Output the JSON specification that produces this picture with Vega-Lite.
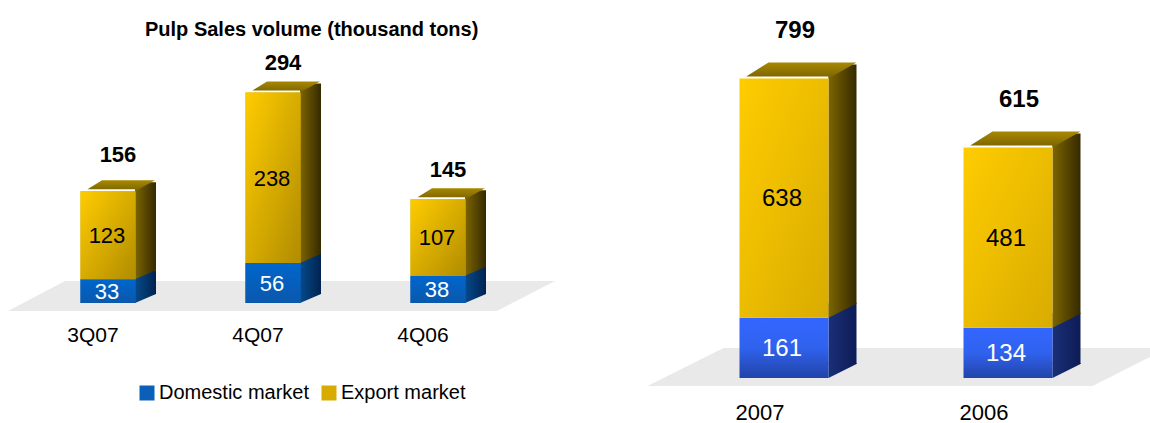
{
"$schema":"https://vega.github.io/schema/vega-lite/v6.json",
"padding":0,
"autosize":{"type":"pad"},
"background":"white",
"spacing":86,
"config":{"view":{"stroke":null},"font":"Liberation Sans"},
"hconcat":[
{"width":546,"height":303,
"title":{"text":"Pulp Sales volume (thousand tons)","anchor":"start","frame":"group","dx":145,"offset":-40,"font":"Liberation Sans","fontSize":20,"fontWeight":"bold","color":"#000000"},
"data":{"values":[
{"period":"3Q07","series":"Domestic market","value":33},
{"period":"3Q07","series":"Export market","value":123},
{"period":"4Q07","series":"Domestic market","value":56},
{"period":"4Q07","series":"Export market","value":238},
{"period":"4Q06","series":"Domestic market","value":38},
{"period":"4Q06","series":"Export market","value":107}]},
"transform":[
{"stack":"value","groupby":["period"],"sort":[{"field":"series","order":"ascending"}],"as":["y0","y1"]},
{"joinaggregate":[{"op":"sum","field":"value","as":"total"}],"groupby":["period"]}],
"encoding":{"x":{"field":"period","type":"nominal","sort":["3Q07","4Q07","4Q06"],
"scale":{"paddingInner":0,"paddingOuter":0.1545},
"axis":{"title":null,"domain":false,"ticks":false,"labelAngle":0,"labelFontSize":21,"labelColor":"#000000","labelPadding":21,"labelOffset":-15,"labelFont":"Liberation Sans"}}},
"layer":[
{"transform":[{"filter":"datum.period=='4Q07' && datum.series=='Domestic market'"}],
"mark":{"type":"point","shape":"M-265,8L224,8L282,-22L-208,-22Z","size":4,"filled":true,"opacity":1,"fill":"#e9e9e9","strokeWidth":0},
"encoding":{"y":{"datum":0,"type":"quantitative","scale":{"domain":[0,423]},"axis":null}}},
{"transform":[{"filter":"datum.series=='Domestic market'"}],
"mark":{"type":"bar","width":21,"xOffset":37.5,"yOffset":-9,"y2Offset":-9,"fill":{"gradient":"linear","x1":0,"y1":0,"x2":1,"y2":0,"stops":[{"offset":0,"color":"#064a8c"},{"offset":1,"color":"#00234f"}]}},
"encoding":{"y":{"field":"y1","type":"quantitative","scale":{"domain":[0,423]},"axis":null},"y2":{"field":"y0"}}},
{"transform":[{"filter":"datum.series=='Domestic market'"}],
"mark":{"type":"point","shape":"M27,-10L48,-10L48,-9L27,0Z","size":4,"filled":true,"opacity":1,"strokeWidth":0,"fill":{"gradient":"linear","x1":0,"y1":0,"x2":1,"y2":0,"stops":[{"offset":0,"color":"#064a8c"},{"offset":1,"color":"#00234f"}]}},
"encoding":{"y":{"field":"y0","type":"quantitative","scale":{"domain":[0,423]},"axis":null}}},
{"transform":[{"filter":"datum.series=='Export market'"}],
"mark":{"type":"bar","width":21,"xOffset":37.5,"yOffset":-9,"y2Offset":-9,"fill":{"gradient":"linear","x1":0,"y1":0,"x2":1,"y2":0,"stops":[{"offset":0,"color":"#7d6500"},{"offset":1,"color":"#352900"}]}},
"encoding":{"y":{"field":"y1","type":"quantitative","scale":{"domain":[0,423]},"axis":null},"y2":{"field":"y0"}}},
{"transform":[{"filter":"datum.series=='Export market'"}],
"mark":{"type":"point","shape":"M27,-10L48,-10L48,-9L27,0Z","size":4,"filled":true,"opacity":1,"strokeWidth":0,"fill":{"gradient":"linear","x1":0,"y1":0,"x2":1,"y2":0,"stops":[{"offset":0,"color":"#7d6500"},{"offset":1,"color":"#352900"}]}},
"encoding":{"y":{"field":"y0","type":"quantitative","scale":{"domain":[0,423]},"axis":null}}},
{"mark":{"type":"bar","width":55},
"encoding":{"y":{"field":"y1","type":"quantitative","scale":{"domain":[0,423]},"axis":null},"y2":{"field":"y0"},
"fill":{"field":"series","type":"nominal","scale":{"domain":["Domestic market","Export market"],"range":["#0a5fb8","#d8ab00"]},
"legend":{"title":null,"orient":"none","legendX":137,"legendY":383,"direction":"horizontal","columns":2,"symbolType":"square","symbolSize":225,"symbolStrokeWidth":0,"symbolOpacity":1,"labelFontSize":20,"labelColor":"#000000","labelFont":"Liberation Sans","columnPadding":9,"labelOffset":2}}}},
{"transform":[{"filter":"datum.series=='Domestic market'"}],
"mark":{"type":"bar","width":55,"fill":{"gradient":"linear","x1":0,"y1":0,"x2":0,"y2":1,"stops":[{"offset":0,"color":"#0066cc"},{"offset":1,"color":"#0a58ac"}]}},
"encoding":{"y":{"field":"y1","type":"quantitative","scale":{"domain":[0,423]},"axis":null},"y2":{"field":"y0"}}},
{"transform":[{"filter":"datum.series=='Export market'"}],
"mark":{"type":"bar","width":55,"fill":{"gradient":"linear","x1":0,"y1":0,"x2":1,"y2":1,"stops":[{"offset":0,"color":"#ffcc00"},{"offset":1,"color":"#b08c00"}]}},
"encoding":{"y":{"field":"y1","type":"quantitative","scale":{"domain":[0,423]},"axis":null},"y2":{"field":"y0"}}},
{"transform":[{"filter":"datum.series=='Export market'"}],
"mark":{"type":"point","shape":"M-20.5,-2L-6,-11L47,-11L27,0L27,-2Z","size":4,"filled":true,"opacity":1,"strokeWidth":0,"fill":{"gradient":"linear","x1":0,"y1":0,"x2":0,"y2":1,"stops":[{"offset":0,"color":"#a88800"},{"offset":1,"color":"#7a6300"}]}},
"encoding":{"y":{"field":"y1","type":"quantitative","scale":{"domain":[0,423]},"axis":null}}},
{"mark":{"type":"text","fontSize":22,"xOffset":-1,"yOffset":1},
"encoding":{"y":{"field":"value","type":"quantitative","stack":"zero","bandPosition":0.5,"scale":{"domain":[0,423]},"axis":null},
"order":{"field":"series","sort":"ascending"},
"text":{"field":"value","type":"quantitative"},
"color":{"field":"series","type":"nominal","scale":{"domain":["Domestic market","Export market"],"range":["#ffffff","#000000"]},"legend":null}}},
{"transform":[{"filter":"datum.series=='Export market' && datum.period!='3Q07'"}],
"mark":{"type":"text","fontSize":22,"fontWeight":"bold","xOffset":10,"yOffset":-29,"color":"#000000"},
"encoding":{"y":{"field":"y1","type":"quantitative","scale":{"domain":[0,423]},"axis":null},"text":{"field":"total","type":"quantitative"}}},
{"transform":[{"filter":"datum.series=='Export market' && datum.period=='3Q07'"}],
"mark":{"type":"text","fontSize":22,"fontWeight":"bold","xOffset":10,"yOffset":-36,"color":"#000000"},
"encoding":{"y":{"field":"y1","type":"quantitative","scale":{"domain":[0,423]},"axis":null},"text":{"field":"total","type":"quantitative"}}}
]},
{"width":510,"height":378,
"data":{"values":[
{"period":"2007","series":"Domestic market","value":161},
{"period":"2007","series":"Export market","value":638},
{"period":"2006","series":"Domestic market","value":134},
{"period":"2006","series":"Export market","value":481}]},
"transform":[
{"stack":"value","groupby":["period"],"sort":[{"field":"series","order":"ascending"}],"as":["y0","y1"]},
{"joinaggregate":[{"op":"sum","field":"value","as":"total"}],"groupby":["period"]}],
"encoding":{"x":{"field":"period","type":"nominal","sort":["2007","2006"],
"scale":{"paddingInner":0,"paddingOuter":0.1384},
"axis":{"title":null,"domain":false,"ticks":false,"labelAngle":0,"labelFontSize":22,"labelColor":"#000000","labelPadding":24,"labelOffset":-24,"labelFont":"Liberation Sans"}}},
"layer":[
{"transform":[{"filter":"datum.period=='2007' && datum.series=='Domestic market'"}],
"mark":{"type":"point","shape":"M-136.5,8L308.5,8L366,-21L366,-30L-60.5,-30Z","size":4,"filled":true,"opacity":1,"fill":"#e9e9e9","strokeWidth":0},
"encoding":{"y":{"datum":0,"type":"quantitative","scale":{"domain":[0,1008]},"axis":null}}},
{"transform":[{"filter":"datum.series=='Domestic market'"}],
"mark":{"type":"bar","width":28,"xOffset":58.5,"yOffset":-14,"y2Offset":-14,"fill":{"gradient":"linear","x1":0,"y1":0,"x2":1,"y2":0,"stops":[{"offset":0,"color":"#1a2f78"},{"offset":1,"color":"#0e1c55"}]}},
"encoding":{"y":{"field":"y1","type":"quantitative","scale":{"domain":[0,1008]},"axis":null},"y2":{"field":"y0"}}},
{"transform":[{"filter":"datum.series=='Domestic market'"}],
"mark":{"type":"point","shape":"M44.5,-15L72.5,-15L72.5,-14L44.5,0Z","size":4,"filled":true,"opacity":1,"strokeWidth":0,"fill":{"gradient":"linear","x1":0,"y1":0,"x2":1,"y2":0,"stops":[{"offset":0,"color":"#1a2f78"},{"offset":1,"color":"#0e1c55"}]}},
"encoding":{"y":{"field":"y0","type":"quantitative","scale":{"domain":[0,1008]},"axis":null}}},
{"transform":[{"filter":"datum.series=='Export market'"}],
"mark":{"type":"bar","width":28,"xOffset":58.5,"yOffset":-14,"y2Offset":-14,"fill":{"gradient":"linear","x1":0,"y1":0,"x2":1,"y2":0,"stops":[{"offset":0,"color":"#7d6500"},{"offset":1,"color":"#352900"}]}},
"encoding":{"y":{"field":"y1","type":"quantitative","scale":{"domain":[0,1008]},"axis":null},"y2":{"field":"y0"}}},
{"transform":[{"filter":"datum.series=='Export market'"}],
"mark":{"type":"point","shape":"M44.5,-15L72.5,-15L72.5,-14L44.5,0Z","size":4,"filled":true,"opacity":1,"strokeWidth":0,"fill":{"gradient":"linear","x1":0,"y1":0,"x2":1,"y2":0,"stops":[{"offset":0,"color":"#7d6500"},{"offset":1,"color":"#352900"}]}},
"encoding":{"y":{"field":"y0","type":"quantitative","scale":{"domain":[0,1008]},"axis":null}}},
{"transform":[{"filter":"datum.series=='Domestic market'"}],
"mark":{"type":"bar","width":89,"fill":{"gradient":"linear","x1":0,"y1":0,"x2":0,"y2":1,"stops":[{"offset":0,"color":"#3366ff"},{"offset":0.5,"color":"#3062ee"},{"offset":1,"color":"#2244a8"}]}},
"encoding":{"y":{"field":"y1","type":"quantitative","scale":{"domain":[0,1008]},"axis":null},"y2":{"field":"y0"}}},
{"transform":[{"filter":"datum.series=='Export market'"}],
"mark":{"type":"bar","width":89,"fill":{"gradient":"linear","x1":0,"y1":0,"x2":1,"y2":1,"stops":[{"offset":0,"color":"#ffcc00"},{"offset":1,"color":"#d8ac00"}]}},
"encoding":{"y":{"field":"y1","type":"quantitative","scale":{"domain":[0,1008]},"axis":null},"y2":{"field":"y0"}}},
{"transform":[{"filter":"datum.series=='Export market'"}],
"mark":{"type":"point","shape":"M-37.8,-2L-15.5,-16L72.5,-16L44.5,0L44.5,-2Z","size":4,"filled":true,"opacity":1,"strokeWidth":0,"fill":{"gradient":"linear","x1":0,"y1":0,"x2":0,"y2":1,"stops":[{"offset":0,"color":"#a88800"},{"offset":1,"color":"#7a6300"}]}},
"encoding":{"y":{"field":"y1","type":"quantitative","scale":{"domain":[0,1008]},"axis":null}}},
{"mark":{"type":"text","fontSize":24,"xOffset":-2,"yOffset":1},
"encoding":{"y":{"field":"value","type":"quantitative","stack":"zero","bandPosition":0.5,"scale":{"domain":[0,1008]},"axis":null},
"order":{"field":"series","sort":"ascending"},
"text":{"field":"value","type":"quantitative"},
"color":{"field":"series","type":"nominal","scale":{"domain":["Domestic market","Export market"],"range":["#ffffff","#000000"]},"legend":null}}},
{"transform":[{"filter":"datum.series=='Export market'"}],
"mark":{"type":"text","fontSize":24,"fontWeight":"bold","xOffset":11,"yOffset":-47,"color":"#000000"},
"encoding":{"y":{"field":"y1","type":"quantitative","scale":{"domain":[0,1008]},"axis":null},"text":{"field":"total","type":"quantitative"}}}
]}
],
"resolve":{"scale":{"fill":"independent","color":"independent"}}
}
